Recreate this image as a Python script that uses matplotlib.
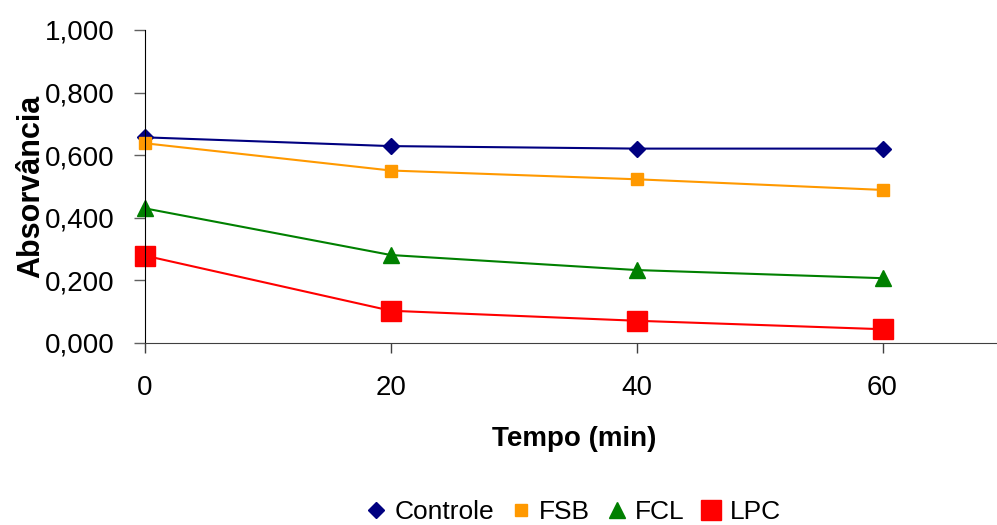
import matplotlib
matplotlib.use("Agg")
import matplotlib.pyplot as plt
from matplotlib.ticker import FuncFormatter

plt.rcParams['font.family'] = ['Liberation Sans', 'DejaVu Sans']

# Data
tempo = [0, 20, 40, 60]
controle = [0.657, 0.629, 0.621, 0.621]
fsb = [0.638, 0.551, 0.523, 0.489]
fcl = [0.430, 0.281, 0.233, 0.207]
lpc = [0.279, 0.103, 0.071, 0.044]

fig = plt.figure(figsize=(9.97, 5.25), dpi=100)
ax = fig.add_axes([0.1455, 0.3467, 0.863, 0.5962])

ax.plot(tempo, controle, color='#000080', lw=1.5, marker='D', ms=8, label='Controle')
ax.plot(tempo, fsb, color='#FF9900', lw=1.5, marker='s', ms=9, label='FSB')
ax.plot(tempo, fcl, color='#008000', lw=1.5, marker='^', ms=11, label='FCL')
ax.plot(tempo, lpc, color='#FF0000', lw=1.5, marker='s', ms=15, label='LPC')

for m in ax.lines:
    m.set_clip_on(False)

ax.set_xlim(0, 70)
ax.set_ylim(0, 1.0)
ax.set_xticks([0, 20, 40, 60])
ax.set_yticks([0, 0.2, 0.4, 0.6, 0.8, 1.0])
ax.yaxis.set_major_formatter(FuncFormatter(lambda v, p: f"{v:.3f}".replace('.', ',')))

for s in ['top', 'right']:
    ax.spines[s].set_visible(False)
ax.spines['left'].set_color('black')
ax.spines['bottom'].set_color('#404040')
ax.tick_params(axis='y', direction='out', length=8, width=1, color='#606060', pad=14, labelsize=20)
ax.tick_params(axis='x', direction='out', length=7, width=1, color='#404040', pad=16, labelsize=20)

ax.set_xlabel('Tempo (min)', fontsize=20, fontweight='bold')
ax.set_ylabel('Absorvância', fontsize=22, fontweight='bold')
ax.xaxis.set_label_coords((575 - 145.5) / 860.4, -0.265)
ax.yaxis.set_label_coords(-0.115, 0.5)

fig.legend(loc='center', bbox_to_anchor=(0.575, 0.025), ncol=4, frameon=False,
           fontsize=19, handlelength=0.8, handletextpad=0.3, columnspacing=0.6,
           borderpad=0)
for h in fig.legends[0].legend_handles:
    h.set_linestyle('none')

fig.savefig('out.png', dpi=100)
